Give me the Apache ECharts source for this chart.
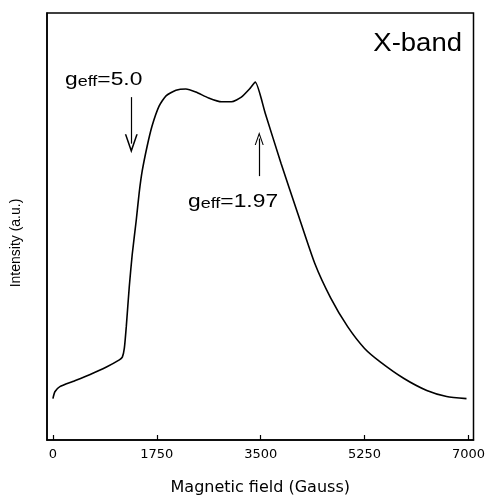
<!DOCTYPE html>
<html>
<head>
<meta charset="utf-8">
<script src="https://cdn.jsdelivr.net/npm/echarts@6/dist/echarts.min.js"></script>
<style>html,body{margin:0;padding:0;background:#fff;}#c{width:488px;height:501px;}</style>
</head>
<body>
<div id="c"></div>
<script>
// Magnetic field (Gauss)
const field = [0, 33, 117, 334, 618, 902, 1119, 1169, 1203, 1236, 1286, 1336, 1403, 1453, 1504, 1587, 1671, 1788, 1905, 2072, 2239, 2406, 2623, 2840, 3007, 3174, 3324, 3408, 3575, 3842, 4126, 4410, 4678, 4962, 5246, 5513, 5914, 6298, 6632, 6967];
// Intensity (a.u.)
const intensity = [9.7, 11.3, 12.5, 13.7, 15.3, 17.1, 18.75, 19.4, 21.5, 26.6, 35.9, 43.5, 51.4, 57.9, 63.0, 68.8, 73.6, 78.2, 80.6, 81.9, 82.2, 81.5, 80.1, 79.2, 79.2, 80.3, 82.4, 83.8, 76.6, 64.8, 53.0, 41.4, 33.3, 26.6, 21.5, 18.3, 14.4, 11.6, 10.2, 9.7];
const xTicks = [0, 1750, 3500, 5250, 7000];
// annotation arrows: [field, from intensity, to intensity]
const arrowDown = [1320, 80.3, 69.4];
const arrowUp = [3475, 61.8, 70.6];

const FONT = '"Liberation Sans", Arial, sans-serif';
const WIDE = '"DejaVu Sans", sans-serif';
const chart = echarts.init(document.getElementById('c'), null, {renderer: 'canvas'});
const chevron = 'path://M0,12 L5,0 L10,12 L8.8,12 L5,3 L1.2,12 Z';
const richG = {
  m: {fontSize: 19, fontFamily: FONT, lineHeight: 20, verticalAlign: 'bottom'},
  s: {fontSize: 15, fontFamily: FONT, lineHeight: 4, verticalAlign: 'bottom'}
};
chart.setOption({
  animation: false,
  backgroundColor: '#fff',
  grid: {left: 47, right: 11, top: 13, bottom: 56, show: true, borderColor: '#000', borderWidth: 1.5, backgroundColor: 'transparent'},
  xAxis: {
    type: 'value', min: -100, max: 7085,
    splitLine: {show: false},
    axisLine: {show: true, onZero: false, lineStyle: {color: '#000', width: 1.5}},
    axisTick: {show: true, inside: true, length: 5, customValues: xTicks, lineStyle: {color: '#000', width: 1.2}},
    axisLabel: {customValues: xTicks, color: '#000', fontSize: 13, fontFamily: WIDE, margin: 8, formatter: v => String(v)},
    name: 'Magnetic field (Gauss)', nameLocation: 'middle', nameGap: 40,
    nameTextStyle: {color: '#000', fontSize: 16, fontFamily: WIDE}
  },
  yAxis: {
    type: 'value', min: 0, max: 100,
    splitLine: {show: false},
    axisLine: {show: true, onZero: false, lineStyle: {color: '#000', width: 1.5}},
    axisTick: {show: false}, axisLabel: {show: false}
  },
  graphic: [
    {type: 'text', x: 16, y: 243, rotation: Math.PI / 2,
     style: {text: 'Intensity (a.u.)', font: '14px ' + FONT, fill: '#000', align: 'center', verticalAlign: 'middle'}},
    {type: 'text', x: 462, y: 44, scaleX: 1.1,
     style: {text: 'X-band', font: '25px ' + FONT, fill: '#000', align: 'right', verticalAlign: 'middle'}},
    {type: 'text', x: 65, y: 79, scaleX: 1.2,
     style: {text: '{m|g}{s|eff}{m|=5.0}', fill: '#000', verticalAlign: 'middle', rich: richG}},
    {type: 'text', x: 188, y: 201, scaleX: 1.2,
     style: {text: '{m|g}{s|eff}{m|=1.97}', fill: '#000', verticalAlign: 'middle', rich: richG}}
  ],
  series: [{
    type: 'line',
    data: field.map((f, i) => [f, intensity[i]]),
    showSymbol: false, smooth: 0.2,
    lineStyle: {color: '#000', width: 1.6},
    markLine: {
      silent: true, animation: false,
      lineStyle: {color: '#000', width: 1.2, type: 'solid'},
      label: {show: false},
      data: [
        [{coord: [arrowDown[0], arrowDown[1]], symbol: 'none'}, {coord: [arrowDown[0], arrowDown[2]], symbol: chevron, symbolSize: [13, 19]}],
        [{coord: [arrowUp[0], arrowUp[1]], symbol: 'none'}, {coord: [arrowUp[0], arrowUp[2]], symbol: chevron, symbolSize: [9, 13]}]
      ]
    }
  }]
});
</script>
</body>
</html>
